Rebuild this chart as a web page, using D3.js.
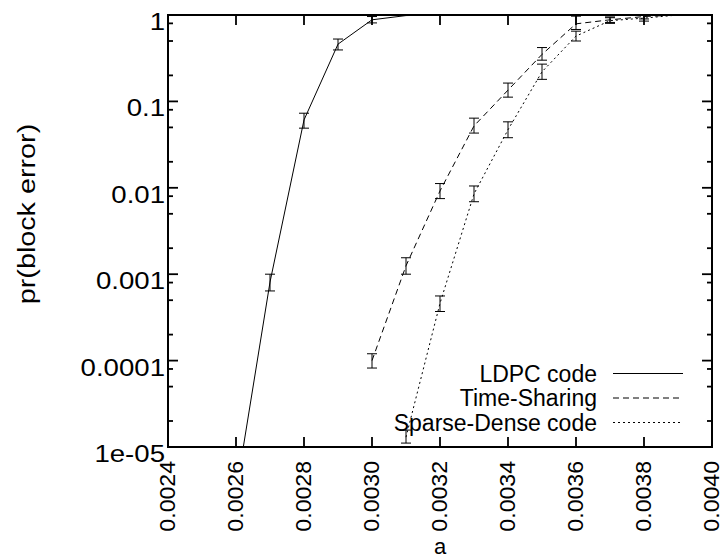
<!DOCTYPE html>
<html>
<head>
<meta charset="utf-8">
<script src="https://cdn.jsdelivr.net/npm/d3@7"></script>
<style>
  body { margin: 0; background: #fff; }
  text { font-family: "Liberation Sans", Arial, Helvetica, sans-serif; fill: #000; }
</style>
</head>
<body>
<svg id="chart" width="723" height="558"></svg>
<script>
// Axis ticks
const xTickValues = [0.0024, 0.0026, 0.0028, 0.0030, 0.0032, 0.0034, 0.0036, 0.0038, 0.0040];
const xTickLabels = ["0.0024", "0.0026", "0.0028", "0.0030", "0.0032", "0.0034", "0.0036", "0.0038", "0.0040"];
const yTickValues = [1, 0.1, 0.01, 0.001, 0.0001, 0.00001];
const yTickLabels = ["1", "0.1", "0.01", "0.001", "0.0001", "1e-05"];

// LDPC code
const ldpcA  = [0.0026, 0.0027, 0.0028, 0.0029, 0.0030, 0.0031, 0.0032, 0.0033, 0.0034, 0.0035, 0.0036, 0.0037, 0.0038, 0.0039, 0.0040];
const ldpcP  = [3e-6, 8.1e-4, 0.061, 0.46, 0.88, 0.985, 1, 1, 1, 1, 1, 1, 1, 1, 1];
const ldpcLo = [null, 6.4e-4, 0.049, 0.394, 0.81, null, null, null, null, null, null, null, null, null, null];
const ldpcHi = [null, 1.0e-3, 0.073, 0.527, 0.96, null, null, null, null, null, null, null, null, null, null];

// Time-Sharing
const tsA  = [0.0030, 0.0031, 0.0032, 0.0033, 0.0034, 0.0035, 0.0036, 0.0037, 0.0038, 0.0039, 0.0040];
const tsP  = [1.0e-4, 1.25e-3, 9.2e-3, 0.052, 0.135, 0.35, 0.79, 0.88, 0.96, 1, 1];
const tsLo = [8.2e-5, 1.0e-3, 7.5e-3, 0.043, 0.112, 0.30, 0.68, 0.82, 0.90, null, null];
const tsHi = [1.2e-4, 1.55e-3, 1.12e-2, 0.064, 0.163, 0.42, 0.97, 0.95, 1.0, null, null];

// Sparse-Dense code
const sdA  = [0.0031, 0.0032, 0.0033, 0.0034, 0.0035, 0.0036, 0.0037, 0.0038, 0.0039, 0.0040];
const sdP  = [1.3e-5, 4.6e-4, 8.5e-3, 0.047, 0.22, 0.57, 0.86, 0.92, 1, 1];
const sdLo = [1.11e-5, 3.7e-4, 6.9e-3, 0.038, 0.18, 0.50, 0.80, 0.85, null, null];
const sdHi = [1.57e-5, 5.6e-4, 1.05e-2, 0.058, 0.27, 0.65, 0.93, 0.99, null, null];

const seriesNames = ["LDPC code", "Time-Sharing", "Sparse-Dense code"];
const seriesDash  = [null, "6,4", "2,3"];

const svg = d3.select("#chart");
const L = 168, R = 712, T = 15, B = 447;

const x = d3.scaleLinear().domain([0.0024, 0.0040]).range([L, R]);
const y = d3.scaleLog().domain([1e-5, 1]).range([B, T]);

// minor ticks at 2, 5, 8 of every decade
const yMinor = [];
for (let e = -5; e < 0; e++) [2, 5, 8].forEach(m => yMinor.push(m * Math.pow(10, e)));

svg.append("defs").append("clipPath").attr("id", "plotclip")
  .append("rect").attr("x", L).attr("y", T).attr("width", R - L).attr("height", B - T);

const axes = svg.append("g").attr("stroke", "#000").attr("stroke-width", 1.8).attr("fill", "none");

// x ticks, bottom and top, pointing inward
xTickValues.forEach(v => {
  axes.append("line").attr("x1", x(v)).attr("x2", x(v)).attr("y1", B).attr("y2", B - 10);
  axes.append("line").attr("x1", x(v)).attr("x2", x(v)).attr("y1", T).attr("y2", T + 10);
});
// y ticks, left and right
yTickValues.forEach(v => {
  axes.append("line").attr("x1", L).attr("x2", L + 10).attr("y1", y(v)).attr("y2", y(v));
  axes.append("line").attr("x1", R).attr("x2", R - 10).attr("y1", y(v)).attr("y2", y(v));
});
yMinor.forEach(v => {
  axes.append("line").attr("x1", L).attr("x2", L + 5).attr("y1", y(v)).attr("y2", y(v));
  axes.append("line").attr("x1", R).attr("x2", R - 5).attr("y1", y(v)).attr("y2", y(v));
});

// tick labels
const yl = svg.append("g");
yTickValues.forEach((v, i) => {
  yl.append("text")
    .attr("transform", `translate(165,${y(v) + 15}) scale(1.2,1)`)
    .attr("text-anchor", "end")
    .attr("font-size", 23)
    .text(yTickLabels[i]);
});
const xl = svg.append("g");
xTickValues.forEach((v, i) => {
  xl.append("text")
    .attr("transform", `translate(${x(v) + 7},461) rotate(-90) scale(1.05,1)`)
    .attr("text-anchor", "end")
    .attr("font-size", 22)
    .text(xTickLabels[i]);
});

// axis titles
svg.append("text")
  .attr("transform", "translate(35,214) rotate(-90) scale(1.25,1)")
  .attr("text-anchor", "middle")
  .attr("font-size", 23)
  .text("pr(block error)");
svg.append("text")
  .attr("x", x(0.0032)).attr("y", 554)
  .attr("text-anchor", "middle")
  .attr("font-size", 22)
  .text("a");

// curves
const plot = svg.append("g").attr("clip-path", "url(#plotclip)");
const series = [
  { a: ldpcA, p: ldpcP, lo: ldpcLo, hi: ldpcHi },
  { a: tsA, p: tsP, lo: tsLo, hi: tsHi },
  { a: sdA, p: sdP, lo: sdLo, hi: sdHi }
];
const line = d3.line().x(d => x(d.a)).y(d => y(d.p));

series.forEach((s, k) => {
  const pts = s.a.map((a, i) => ({ a, p: s.p[i], lo: s.lo[i], hi: s.hi[i] }));
  const path = plot.append("path").datum(pts)
    .attr("d", line)
    .attr("fill", "none").attr("stroke", "#000").attr("stroke-width", 1);
  if (seriesDash[k]) path.attr("stroke-dasharray", seriesDash[k]);

  const eb = plot.append("g").attr("stroke", "#000").attr("stroke-width", 1);
  pts.filter(d => d.lo != null).forEach(d => {
    const cx = x(d.a), y1 = y(d.lo), y2 = y(d.hi);
    eb.append("line").attr("x1", cx).attr("x2", cx).attr("y1", y1).attr("y2", y2);
    eb.append("line").attr("x1", cx - 5).attr("x2", cx + 5).attr("y1", y1).attr("y2", y1);
    eb.append("line").attr("x1", cx - 5).attr("x2", cx + 5).attr("y1", y2).attr("y2", y2);
  });
});

// legend
const lg = svg.append("g");
seriesNames.forEach((name, k) => {
  const ry = 373.5 + k * 24.5;
  lg.append("text")
    .attr("x", 597).attr("y", ry + 8.3)
    .attr("text-anchor", "end")
    .attr("font-size", 23)
    .text(name);
  const ln = lg.append("line")
    .attr("x1", 613).attr("x2", 683).attr("y1", ry).attr("y2", ry)
    .attr("stroke", "#000").attr("stroke-width", 1);
  if (seriesDash[k]) ln.attr("stroke-dasharray", seriesDash[k]);
});

// border
svg.append("rect")
  .attr("x", L).attr("y", T).attr("width", R - L).attr("height", B - T)
  .attr("fill", "none").attr("stroke", "#000").attr("stroke-width", 2);
</script>
</body>
</html>
